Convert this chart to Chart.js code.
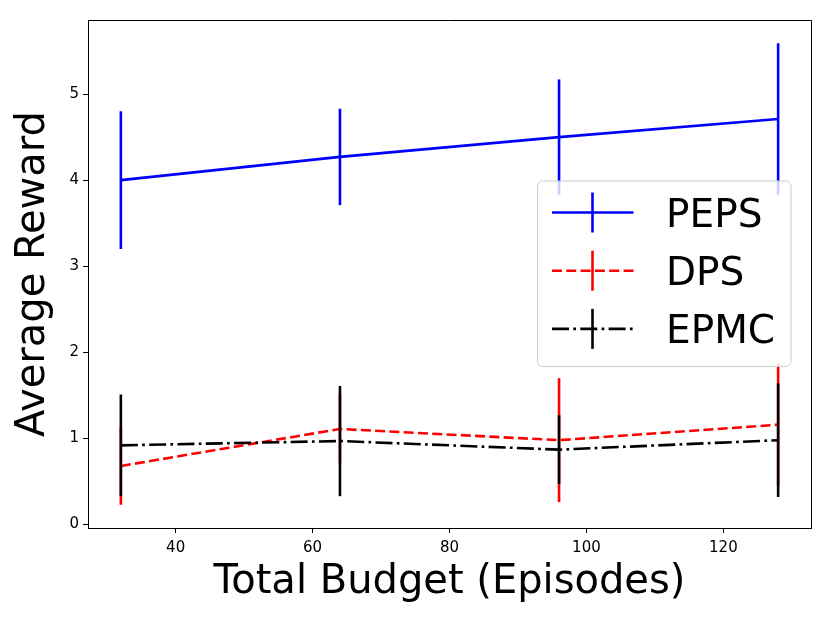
<!DOCTYPE html>
<html>
<head>
<meta charset="utf-8">
<script src="https://cdn.jsdelivr.net/npm/chart.js@4.4.0/dist/chart.umd.min.js"></script>
<style>
body{margin:0;background:#fff}
</style>
</head>
<body>
<canvas id="myChart" width="830" height="623"></canvas>
<script>
// values
let budgets=[32,64,96,128]
let pepsMean=[4.00,4.27,4.50,4.71]
let pepsErr=[0.80,0.56,0.67,0.88]
let dpsMean=[0.68,1.11,0.98,1.16]
let dpsErr=[0.45,0.40,0.72,0.71]
let epmcMean=[0.92,0.97,0.87,0.98]
let epmcErr=[0.59,0.64,0.40,0.66]
let xTicks=[40,60,80,100,120]
let yTicks=[0,1,2,3,4,5]

const font='DejaVu Sans'
const lw=2.6

let series=[
  {label:'PEPS',mean:pepsMean,err:pepsErr,color:'#0000ff',dash:[]},
  {label:'DPS',mean:dpsMean,err:dpsErr,color:'#ff0000',dash:[10,4.3]},
  {label:'EPMC',mean:epmcMean,err:epmcErr,color:'#000000',dash:[17,4.3,2.7,4.3]}
]

function points(arr){
  let out=[]
  for(let i=0;i<budgets.length;i++){
    out.push({x:budgets[i],y:arr[i]})
  }
  return out
}

// vertical error bars, drawn right after each dataset's line
const errorBars={
  id:'errorBars',
  afterDatasetDraw(chart,args){
    let s=series[args.index]
    let xs=chart.scales.x, ys=chart.scales.y
    let ctx=chart.ctx
    ctx.save()
    ctx.strokeStyle=s.color
    ctx.lineWidth=lw
    ctx.setLineDash([])
    for(let i=0;i<budgets.length;i++){
      let px=xs.getPixelForValue(budgets[i])
      ctx.beginPath()
      ctx.moveTo(px,ys.getPixelForValue(s.mean[i]-s.err[i]))
      ctx.lineTo(px,ys.getPixelForValue(s.mean[i]+s.err[i]))
      ctx.stroke()
    }
    ctx.restore()
  }
}

// top/right frame + legend box
const frameAndLegend={
  id:'frameAndLegend',
  afterDraw(chart){
    let ctx=chart.ctx
    let ca=chart.chartArea
    ctx.save()
    ctx.strokeStyle='#000'
    ctx.lineWidth=1
    ctx.beginPath()
    ctx.moveTo(ca.left,ca.top+0.5)
    ctx.lineTo(ca.right+0.5,ca.top+0.5)
    ctx.lineTo(ca.right+0.5,ca.bottom)
    ctx.stroke()

    let bx=ca.right-273.5, by=ca.top+161, bw=253.5, bh=185.5
    ctx.beginPath()
    ctx.roundRect(bx,by,bw,bh,5)
    ctx.fillStyle='rgba(255,255,255,0.8)'
    ctx.fill()
    ctx.strokeStyle='#cccccc'
    ctx.stroke()

    for(let i=0;i<series.length;i++){
      let s=series[i]
      let ry=by+31.5+i*58.2
      ctx.strokeStyle=s.color
      ctx.lineWidth=lw
      ctx.setLineDash(s.dash)
      ctx.beginPath()
      ctx.moveTo(bx+14.5,ry)
      ctx.lineTo(bx+96,ry)
      ctx.stroke()
      ctx.setLineDash([])
      ctx.beginPath()
      ctx.moveTo(bx+55,ry-20)
      ctx.lineTo(bx+55,ry+20)
      ctx.stroke()
      ctx.fillStyle='#000'
      ctx.font='39px "'+font+'"'
      ctx.textBaseline='alphabetic'
      ctx.textAlign='left'
      ctx.fillText(s.label,bx+128.5,ry+14)
    }
    ctx.restore()
  }
}

const ctx=document.getElementById('myChart')

new Chart(ctx,{
  type:'line',
  data:{
    datasets:series.map((s,i)=>({
      label:s.label,
      data:points(s.mean),
      borderColor:s.color,
      backgroundColor:s.color,
      borderWidth:lw,
      borderDash:s.dash,
      pointRadius:0,
      tension:0,
      fill:false,
      order:series.length-i
    }))
  },
  options:{
    responsive:false,
    animation:false,
    layout:{padding:{top:20,right:19,left:0,bottom:0}},
    plugins:{legend:{display:false},tooltip:{enabled:false}},
    scales:{
      x:{
        type:'linear',
        min:27.2,
        max:132.8,
        afterBuildTicks:s=>{s.ticks=xTicks.map(v=>({value:v}))},
        afterFit:s=>{s.height=95},
        grid:{drawOnChartArea:false,drawTicks:true,tickLength:5,color:'#000',lineWidth:1},
        border:{display:true,color:'#000',width:1},
        ticks:{color:'#000',font:{family:font,size:15},padding:6,maxRotation:0},
        title:{display:true,text:'Total Budget (Episodes)',color:'#000',font:{family:font,size:40},padding:{top:0,bottom:16}}
      },
      y:{
        type:'linear',
        min:-0.04,
        max:5.86,
        afterBuildTicks:s=>{s.ticks=yTicks.map(v=>({value:v}))},
        afterFit:s=>{s.width=88},
        grid:{drawOnChartArea:false,drawTicks:true,tickLength:5,color:'#000',lineWidth:1},
        border:{display:true,color:'#000',width:1},
        ticks:{color:'#000',font:{family:font,size:15},padding:4},
        title:{display:true,text:'Average Reward',color:'#000',font:{family:font,size:40},padding:{top:10,bottom:0}}
      }
    }
  },
  plugins:[errorBars,frameAndLegend]
})
</script>
</body>
</html>
